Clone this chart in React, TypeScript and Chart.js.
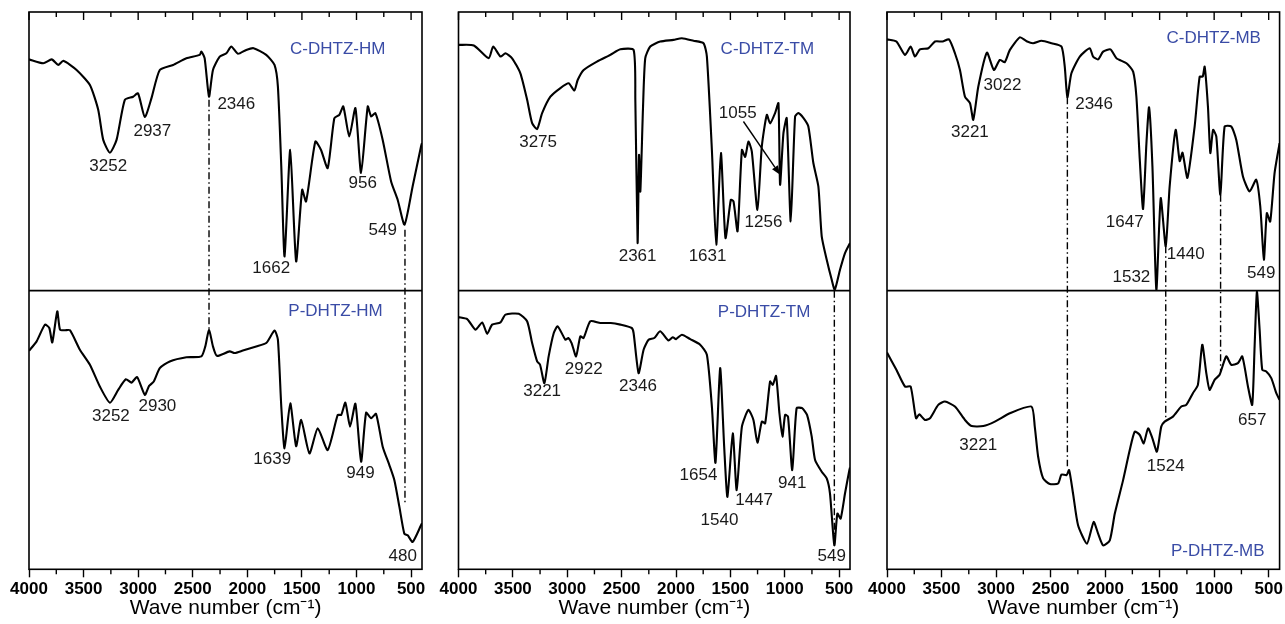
import React, { useEffect, useRef } from 'react';
import { Chart, registerables } from 'chart.js';

Chart.register(...registerables);

const FONT = '"Liberation Sans", Arial, Helvetica, sans-serif';

// ---- axis ----
const X_MIN = 400;
const X_MAX = 4000;
const X_TICKS = [4000, 3500, 3000, 2500, 2000, 1500, 1000, 500];
const X_MINOR = [3750, 3250, 2750, 2250, 1750, 1250, 750];
const X_TITLE = 'Wave number (cm⁻¹)';

// ---- spectra: [wavenumber, relative transmittance within its sub-plot (0 bottom .. 100 top)] ----
const C_HM: [number, number][] = [
  [4000, 83.0], [3869, 81.6], [3792, 83.0], [3732, 81.0], [3686, 82.5], [3564, 79.2], [3442, 73.8],
  [3366, 64.9], [3320, 54.1], [3259, 49.5], [3198, 54.1], [3122, 68.5], [3046, 69.6], [3001, 70.8],
  [2939, 62.3], [2878, 69.1], [2802, 79.2], [2680, 81.0], [2558, 83.4], [2436, 84.6], [2421, 85.8],
  [2391, 83.4], [2351, 69.6], [2315, 79.2], [2253, 84.0], [2192, 85.2], [2147, 87.6], [2086, 85.0],
  [2010, 86.4], [1943, 87.0], [1827, 84.6], [1751, 81.0], [1720, 73.2], [1689, 44.6], [1659, 12.3],
  [1607, 50.5], [1553, 10.5], [1498, 36.2], [1462, 32.0], [1377, 53.5], [1325, 50.5], [1264, 44.0],
  [1203, 61.9], [1157, 63.1], [1121, 66.1], [1066, 55.3], [1010, 65.5], [958, 42.2], [897, 66.1],
  [866, 62.5], [827, 63.7], [760, 54.1], [683, 39.2], [623, 32.6], [560, 23.7], [486, 37.4],
  [409, 51.7], [400, 53.0],
];
const P_HM: [number, number][] = [
  [4000, 78.4], [3930, 81.8], [3854, 87.8], [3814, 86.6], [3787, 81.4], [3741, 92.6], [3716, 86.0],
  [3671, 85.8], [3625, 85.8], [3534, 78.8], [3442, 73.4], [3351, 65.6], [3259, 59.8], [3183, 64.4],
  [3113, 68.2], [3061, 67.0], [3010, 69.0], [2939, 62.6], [2900, 65.8], [2857, 67.4], [2802, 72.2],
  [2711, 74.6], [2558, 76.1], [2421, 76.4], [2385, 80.0], [2351, 86.0], [2315, 80.0], [2279, 76.6],
  [2162, 78.2], [2117, 77.6], [2041, 78.5], [1919, 80.0], [1827, 81.2], [1751, 85.7], [1720, 82.4],
  [1689, 58.4], [1659, 43.4], [1607, 59.6], [1553, 44.2], [1507, 53.6], [1431, 41.6], [1355, 50.6],
  [1264, 42.8], [1172, 55.4], [1140, 55.4], [1102, 59.8], [1059, 51.2], [1010, 59.4], [958, 38.6],
  [912, 56.2], [866, 54.2], [821, 55.8], [760, 44.0], [699, 37.4], [653, 32.0], [607, 22.4],
  [562, 12.8], [531, 12.2], [486, 9.8], [409, 15.8], [400, 16.5],
];
const C_TM: [number, number][] = [
  [4000, 88.2], [3859, 88.0], [3722, 83.4], [3681, 87.6], [3614, 84.0], [3568, 85.2], [3507, 83.4],
  [3431, 78.0], [3369, 68.5], [3323, 60.1], [3277, 58.0], [3231, 63.7], [3155, 69.6], [3063, 72.7],
  [2987, 74.4], [2935, 71.8], [2904, 75.6], [2849, 79.2], [2727, 82.2], [2604, 84.6], [2512, 86.6],
  [2390, 86.4], [2374, 68.5], [2353, 17.1], [2340, 48.7], [2328, 35.6], [2304, 64.9], [2283, 83.4],
  [2237, 87.6], [2145, 89.4], [2023, 90.0], [1946, 90.6], [1839, 89.7], [1747, 88.8], [1716, 84.0],
  [1670, 50.5], [1630, 16.5], [1587, 49.4], [1545, 18.9], [1496, 32.6], [1471, 32.0], [1434, 21.3],
  [1394, 50.5], [1364, 48.0], [1334, 53.5], [1303, 50.0], [1251, 29.0], [1211, 51.7], [1165, 63.1],
  [1135, 60.0], [1089, 63.7], [1058, 67.3], [1043, 38.0], [1012, 56.5], [982, 61.9], [945, 24.8],
  [905, 62.5], [875, 63.7], [829, 62.0], [783, 58.9], [737, 45.8], [691, 37.4], [660, 19.5],
  [614, 11.1], [568, 3.9], [540, 0.3], [492, 7.5], [446, 13.5], [400, 17.1],
];
const P_TM: [number, number][] = [
  [4000, 90.5], [3920, 89.8], [3844, 86.0], [3782, 88.6], [3736, 84.5], [3691, 87.8], [3614, 88.6],
  [3568, 91.4], [3446, 91.7], [3369, 89.0], [3323, 81.2], [3277, 74.6], [3250, 73.4], [3210, 66.8],
  [3171, 76.4], [3124, 84.8], [3088, 87.2], [3017, 82.4], [2990, 83.0], [2960, 81.2], [2919, 76.4],
  [2880, 83.6], [2850, 83.0], [2788, 89.0], [2696, 88.4], [2600, 88.4], [2512, 87.8], [2407, 86.6],
  [2390, 84.8], [2344, 70.4], [2298, 78.8], [2252, 82.4], [2200, 83.0], [2145, 85.4], [2069, 82.1],
  [2030, 83.3], [2000, 82.6], [1946, 84.2], [1869, 82.6], [1778, 80.6], [1716, 77.0], [1670, 58.4],
  [1637, 38.2], [1594, 72.2], [1557, 44.0], [1527, 26.0], [1478, 48.8], [1442, 28.4], [1394, 51.2],
  [1334, 57.2], [1288, 53.6], [1251, 45.4], [1211, 53.0], [1180, 52.4], [1135, 67.4], [1110, 66.2],
  [1080, 69.4], [1049, 56.0], [1021, 47.6], [997, 55.4], [970, 54.8], [931, 35.6], [891, 57.8],
  [840, 57.8], [795, 55.4], [752, 47.6], [721, 39.2], [660, 35.0], [614, 32.6], [584, 27.2],
  [544, 8.6], [516, 20.0], [486, 18.2], [446, 27.2], [406, 35.6], [400, 36.5],
];
const C_MB: [number, number][] = [
  [4000, 90.2], [3914, 89.4], [3835, 84.6], [3783, 87.6], [3744, 84.0], [3698, 86.6], [3620, 87.0],
  [3560, 89.4], [3490, 89.4], [3432, 90.2], [3377, 85.2], [3331, 79.2], [3285, 69.6], [3239, 67.3],
  [3209, 61.3], [3163, 73.2], [3084, 85.4], [3020, 79.2], [2965, 82.8], [2920, 82.0], [2873, 86.4],
  [2782, 90.9], [2720, 89.5], [2660, 88.8], [2583, 89.7], [2490, 88.8], [2400, 87.6], [2370, 80.4],
  [2346, 69.4], [2309, 78.0], [2232, 84.0], [2141, 87.0], [2110, 84.0], [2064, 83.0], [2018, 85.8],
  [1951, 86.6], [1896, 83.4], [1804, 81.6], [1743, 78.6], [1713, 69.6], [1682, 47.0], [1652, 29.3],
  [1621, 52.9], [1597, 65.8], [1566, 44.6], [1530, 0.3], [1490, 33.2], [1444, 15.9], [1408, 37.4],
  [1353, 57.7], [1316, 46.5], [1290, 49.5], [1245, 40.5], [1179, 58.9], [1133, 76.8], [1105, 76.8],
  [1087, 80.4], [1057, 66.1], [1035, 49.4], [1010, 57.7], [980, 55.3], [943, 34.4], [904, 58.9],
  [843, 58.9], [797, 54.1], [736, 41.0], [675, 35.6], [614, 39.8], [577, 30.2], [544, 11.1],
  [517, 27.8], [486, 24.8], [446, 42.2], [400, 52.9],
];
const P_MB: [number, number][] = [
  [4000, 77.8], [3914, 71.6], [3835, 65.6], [3783, 65.6], [3734, 54.2], [3704, 55.6], [3652, 53.6],
  [3606, 54.2], [3530, 59.0], [3469, 60.2], [3377, 58.4], [3285, 53.6], [3224, 51.4], [3117, 51.4],
  [3011, 53.0], [2873, 56.0], [2675, 58.4], [2645, 51.2], [2614, 40.4], [2568, 32.6], [2507, 30.6],
  [2431, 30.8], [2400, 34.0], [2354, 33.8], [2330, 35.6], [2294, 27.2], [2248, 15.8], [2166, 9.2],
  [2105, 17.0], [2064, 12.8], [2018, 8.6], [1957, 10.4], [1911, 20.0], [1835, 32.0], [1774, 42.8],
  [1728, 49.4], [1682, 48.2], [1646, 45.2], [1606, 50.6], [1566, 47.0], [1525, 42.2], [1485, 51.2],
  [1454, 53.0], [1378, 54.8], [1301, 58.4], [1256, 59.0], [1195, 63.2], [1149, 66.2], [1109, 80.6],
  [1072, 70.4], [1042, 64.4], [996, 68.0], [950, 69.8], [889, 76.4], [843, 73.4], [782, 74.0],
  [742, 76.4], [690, 65.6], [651, 59.0], [629, 80.0], [608, 99.6], [583, 86.0], [559, 71.6],
  [522, 71.0], [476, 68.6], [430, 63.2], [400, 60.8],
];

// ---- annotations: [text, wavenumber, level, sub-plot 't' | 'b'] ----
type Ann = [string, number, number, 't' | 'b'];
const LABELS_HM: Ann[] = [
  ['3252', 3274, 44.6, 't'], ['2937', 2870, 57.1, 't'], ['2346', 2101, 66.7, 't'],
  ['1662', 1781, 8.1, 't'], ['956', 943, 38.6, 't'], ['549', 760, 21.6, 't'],
  ['3252', 3250, 55.0, 'b'], ['2930', 2824, 58.4, 'b'], ['1639', 1772, 39.5, 'b'],
  ['949', 964, 34.6, 'b'], ['480', 576, 4.7, 'b'],
];
const LABELS_TM: Ann[] = [
  ['3275', 3268, 53.2, 't'], ['2361', 2353, 12.3, 't'], ['1631', 1710, 12.3, 't'],
  ['1055', 1432, 63.7, 't'], ['1256', 1196, 24.5, 't'],
  ['3221', 3231, 63.8, 'b'], ['2922', 2849, 71.6, 'b'], ['2346', 2350, 65.6, 'b'],
  ['1654', 1793, 33.8, 'b'], ['1540', 1600, 17.6, 'b'], ['1447', 1282, 24.8, 'b'],
  ['941', 931, 30.8, 'b'], ['549', 568, 4.7, 'b'],
];
const LABELS_MB: Ann[] = [
  ['3221', 3240, 56.7, 't'], ['3022', 2941, 73.8, 't'], ['2346', 2101, 66.7, 't'],
  ['1647', 1820, 24.5, 't'], ['1532', 1759, 4.9, 't'], ['1440', 1261, 12.9, 't'],
  ['549', 568, 6.3, 't'],
  ['3221', 3163, 44.4, 'b'], ['1524', 1444, 36.8, 'b'], ['657', 651, 53.6, 'b'],
];
const NAMES_HM: Ann[] = [['C-DHTZ-HM', 1172, 86.6, 't'], ['P-DHTZ-HM', 1192, 92.6, 'b']];
const NAMES_TM: Ann[] = [['C-DHTZ-TM', 1160, 86.6, 't'], ['P-DHTZ-TM', 1190, 92.3, 'b']];
const NAMES_MB: Ann[] = [['C-DHTZ-MB', 1004, 90.6, 't'], ['P-DHTZ-MB', 967, 6.6, 'b']];

// dash-dot guides: [wavenumber, level in top plot, level in bottom plot]
const GUIDES_HM: [number, number, number][] = [[2351, 68.5, 86.0], [556, 21.9, 23.6]];
const GUIDES_TM: [number, number, number][] = [[544, 0, 9.0]];
const GUIDES_MB: [number, number, number][] = [[2346, 69.4, 37.0], [1444, 15.9, 54.0], [941, 34.4, 71.0]];

// arrows (top plot): [from wn, from level, to wn, to level]
const ARROWS_TM: [number, number, number, number][] = [[1380, 60.7, 1043, 41.6]];

interface PanelSpec {
  top: [number, number][];
  bottom: [number, number][];
  labels: Ann[];
  names: Ann[];
  guides: [number, number, number][];
  arrows: [number, number, number, number][];
  left: number;
  width: number;
  padLeft: number;
  padRight: number;
}

const PANELS: PanelSpec[] = [
  { top: C_HM, bottom: P_HM, labels: LABELS_HM, names: NAMES_HM, guides: GUIDES_HM, arrows: [], left: 0, width: 445, padLeft: 29, padRight: 23 },
  { top: C_TM, bottom: P_TM, labels: LABELS_TM, names: NAMES_TM, guides: GUIDES_TM, arrows: ARROWS_TM, left: 430, width: 440, padLeft: 28.5, padRight: 20 },
  { top: C_MB, bottom: P_MB, labels: LABELS_MB, names: NAMES_MB, guides: GUIDES_MB, arrows: [], left: 860, width: 425, padLeft: 27, padRight: 5 },
];

const CANVAS_H = 624;
const PLOT_TOP = 12;
const PLOT_BOTTOM = 569.3;

function decorPlugin(p: PanelSpec) {
  return {
    id: 'ftirDecor',
    afterDatasetsDraw(chart: any) {
      const { ctx, chartArea: a, scales } = chart;
      const xs = scales.x;
      const ys = scales.y;
      const X = (w: number) => xs.getPixelForValue(w);
      const Y = (v: number, sub: 't' | 'b') => ys.getPixelForValue(sub === 't' ? 100 + v : v);
      ctx.save();
      ctx.strokeStyle = '#000';
      ctx.lineCap = 'butt';

      // dash-dot guide lines
      ctx.lineWidth = 1.4;
      ctx.setLineDash([7, 3, 1.5, 3]);
      p.guides.forEach(([w, t, b]) => {
        ctx.beginPath();
        ctx.moveTo(X(w), Y(t, 't'));
        ctx.lineTo(X(w), Y(b, 'b'));
        ctx.stroke();
      });
      ctx.setLineDash([]);

      // frame and divider
      ctx.lineWidth = 1.6;
      ctx.strokeRect(a.left, a.top, a.right - a.left, a.bottom - a.top);
      const yd = ys.getPixelForValue(100);
      ctx.beginPath();
      ctx.moveTo(a.left, yd);
      ctx.lineTo(a.right, yd);
      ctx.stroke();

      // top inward ticks, bottom minor ticks
      ctx.lineWidth = 1.4;
      X_TICKS.forEach((v) => {
        const x = X(v);
        ctx.beginPath(); ctx.moveTo(x, a.top); ctx.lineTo(x, a.top + 8); ctx.stroke();
      });
      X_MINOR.forEach((v) => {
        const x = X(v);
        ctx.beginPath(); ctx.moveTo(x, a.top); ctx.lineTo(x, a.top + 5); ctx.stroke();
        ctx.beginPath(); ctx.moveTo(x, a.bottom); ctx.lineTo(x, a.bottom + 5); ctx.stroke();
      });

      // arrows
      ctx.lineWidth = 1.4;
      p.arrows.forEach(([w1, v1, w2, v2]) => {
        const x1 = X(w1), y1 = Y(v1, 't'), x2 = X(w2), y2 = Y(v2, 't');
        const ang = Math.atan2(y2 - y1, x2 - x1);
        const hl = 9, hw = 3.5;
        const bx = x2 - hl * Math.cos(ang), by = y2 - hl * Math.sin(ang);
        ctx.beginPath(); ctx.moveTo(x1, y1); ctx.lineTo(bx, by); ctx.stroke();
        ctx.beginPath();
        ctx.moveTo(x2, y2);
        ctx.lineTo(bx - hw * Math.sin(ang), by + hw * Math.cos(ang));
        ctx.lineTo(bx + hw * Math.sin(ang), by - hw * Math.cos(ang));
        ctx.closePath();
        ctx.fillStyle = '#000';
        ctx.fill();
      });

      // peak labels
      ctx.textAlign = 'center';
      ctx.textBaseline = 'middle';
      ctx.font = `17px ${FONT}`;
      ctx.fillStyle = '#1a1a1a';
      p.labels.forEach(([t, w, v, s]) => ctx.fillText(t, X(w), Y(v, s)));

      // sample names
      ctx.font = `17px ${FONT}`;
      ctx.fillStyle = '#3a4ca6';
      p.names.forEach(([t, w, v, s]) => ctx.fillText(t, X(w), Y(v, s)));

      ctx.restore();
    },
  };
}

function Panel({ spec }: { spec: PanelSpec }) {
  const ref = useRef<HTMLCanvasElement | null>(null);
  useEffect(() => {
    if (!ref.current) return;
    const line = { borderColor: '#000', borderWidth: 2.1, pointRadius: 0, tension: 0.2, fill: false, borderJoinStyle: 'round' as const };
    const chart = new Chart(ref.current, {
      type: 'line',
      data: {
        datasets: [
          { ...line, data: spec.top.map(([w, v]) => ({ x: w, y: 100 + v })) },
          { ...line, data: spec.bottom.map(([w, v]) => ({ x: w, y: v })) },
        ],
      },
      options: {
        animation: false,
        responsive: false,
        events: [],
        layout: { padding: { left: spec.padLeft, right: spec.padRight, top: PLOT_TOP, bottom: 0 } },
        plugins: { legend: { display: false }, tooltip: { enabled: false } },
        scales: {
          x: {
            type: 'linear',
            reverse: true,
            min: X_MIN,
            max: X_MAX,
            afterBuildTicks: (s: any) => { s.ticks = X_TICKS.map((v) => ({ value: v })); },
            afterFit: (s: any) => { s.height = CANVAS_H - PLOT_BOTTOM; },
            grid: { drawOnChartArea: false, drawTicks: true, tickLength: 8, tickColor: '#000', tickWidth: 1.4 },
            border: { display: false },
            ticks: {
              color: '#000',
              font: { size: 17, weight: 'bold', family: FONT },
              padding: 2,
              autoSkip: false,
              maxRotation: 0,
              callback: (v: any) => String(v),
            },
            title: {
              display: true,
              text: X_TITLE,
              color: '#000',
              font: { size: 21, family: FONT },
              padding: { top: 0, bottom: 3 },
            },
          },
          y: { display: false, min: 0, max: 200 },
        },
      } as any,
      plugins: [decorPlugin(spec)],
    });
    return () => chart.destroy();
  }, [spec]);
  return (
    <canvas
      ref={ref}
      width={spec.width}
      height={CANVAS_H}
      style={{ position: 'absolute', left: spec.left, top: 0, width: spec.width, height: CANVAS_H }}
    />
  );
}

export default function App() {
  return (
    <div style={{ position: 'absolute', left: 0, top: 0, width: 1285, height: CANVAS_H, background: '#fff', overflow: 'hidden' }}>
      {PANELS.map((p, i) => (
        <Panel key={i} spec={p} />
      ))}
    </div>
  );
}
